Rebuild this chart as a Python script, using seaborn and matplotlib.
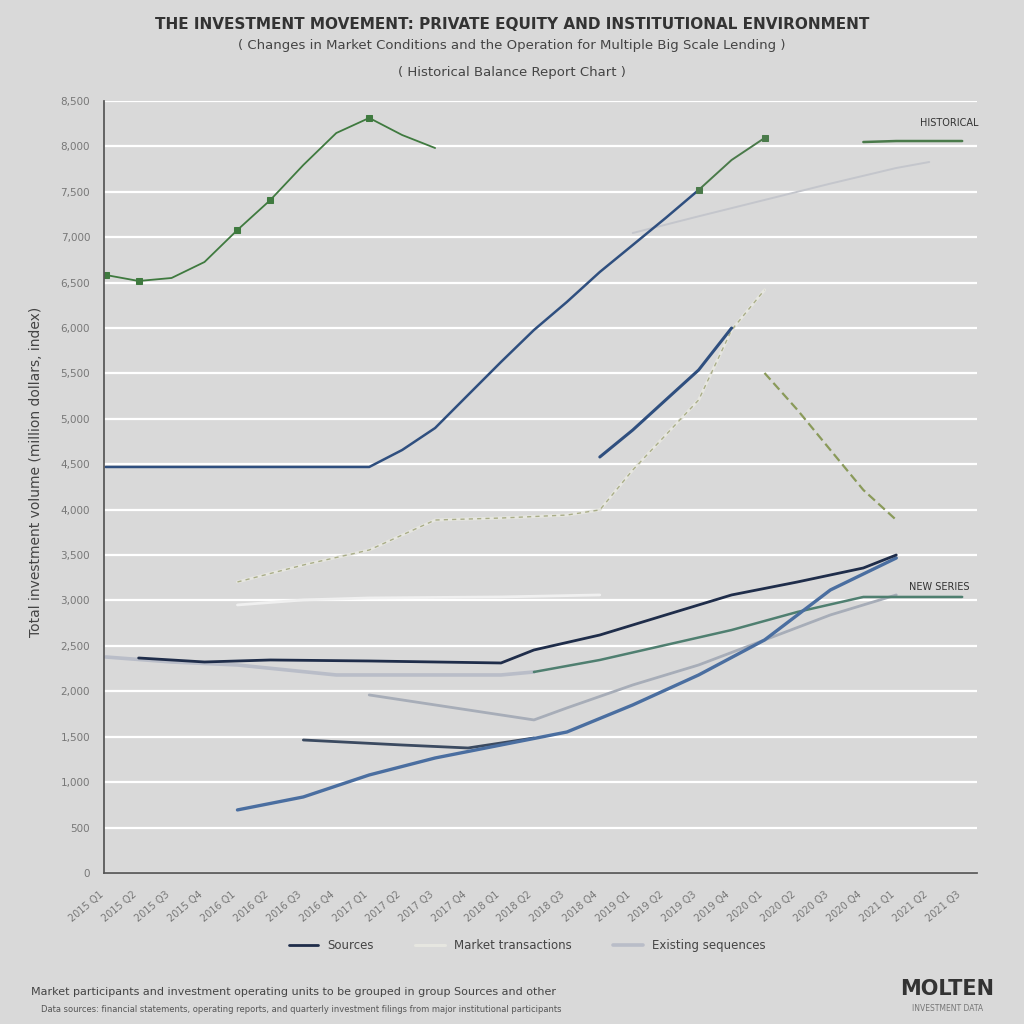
import numpy as np
import pandas as pd
import matplotlib
matplotlib.use("Agg")
import matplotlib.pyplot as plt
import seaborn as sns

# ---------------- data ----------------
periods = [f"{2015 + q // 4} Q{q % 4 + 1}" for q in range(27)]

growth_x = [0, 1, 2, 3, 4, 5, 6, 7, 8, 9, 10]
growth_y = [6584, 6518, 6551, 6727, 7080, 7410, 7795, 8147, 8313, 8125, 7982]

sources_x = [0, 2, 4, 6, 8, 9, 10, 11, 12, 13, 14, 15, 16, 17, 18]
sources_y = [4470, 4470, 4470, 4470, 4470, 4657, 4899, 5263, 5626, 5978, 6287, 6617, 6914, 7212, 7520]

peak_x = [18, 19, 20]
peak_y = [7520, 7850, 8092]

hist_x = [23, 24, 25, 26]
hist_y = [8048, 8059, 8059, 8059]

trend_x = [16, 18, 20, 22, 24, 25]
trend_y = [7046, 7230, 7410, 7590, 7762, 7828]

surge_x = [15, 16, 17, 18, 19]
surge_y = [4580, 4877, 5208, 5538, 6000]

market_x = [4, 6, 8, 10, 12, 14, 15, 16, 17, 18, 19, 20]
market_y = [3204, 3391, 3556, 3886, 3908, 3941, 3997, 4437, 4822, 5208, 5978, 6419]

decline_x = [20, 21, 22, 23, 24]
decline_y = [5505, 5098, 4657, 4217, 3886]

flat_x = [4, 6, 8, 12, 15]
flat_y = [2951, 3006, 3028, 3039, 3061]

navy_x = [1, 3, 5, 8, 12, 13, 15, 17, 19, 21, 23, 24]
navy_y = [2367, 2323, 2345, 2334, 2312, 2455, 2620, 2841, 3061, 3204, 3358, 3501]

steel_x = [4, 6, 8, 10, 12, 14, 16, 18, 20, 22, 24]
steel_y = [694, 837, 1079, 1266, 1409, 1552, 1850, 2180, 2565, 3116, 3468]

exist_x = [0, 2, 4, 7, 12, 13]
exist_y = [2378, 2323, 2290, 2180, 2180, 2213]

exist2_x = [8, 10, 12, 13, 14, 16, 18, 20, 22, 24]
exist2_y = [1960, 1850, 1740, 1685, 1817, 2070, 2290, 2565, 2841, 3061]

teal_x = [13, 15, 17, 19, 21, 23, 25, 26]
teal_y = [2213, 2345, 2510, 2675, 2874, 3039, 3039, 3039]

dark_x = [6, 9, 11, 13]
dark_y = [1464, 1409, 1376, 1486]

y_ticks = list(range(0, 8501, 500))

# ---------------- style ----------------
bg = "#d9d9d9"
sns.set_theme(style="whitegrid", rc={
    "axes.facecolor": bg, "figure.facecolor": bg,
    "grid.color": "white", "grid.linewidth": 1.6,
    "axes.edgecolor": "#444444",
})
plt.rcParams["font.family"] = ["DejaVu Sans"]

fig = plt.figure(figsize=(10.24, 10.24), dpi=100)
ax = fig.add_axes([0.1016, 0.1475, 0.8525, 0.7539])

def draw(x, y, color, lw=1.8, ls="-", marker=None, ms=5, label=None, alpha=1.0, markevery=None):
    df = pd.DataFrame({"x": x, "y": y})
    sns.lineplot(data=df, x="x", y="y", ax=ax, color=color, linewidth=lw,
                 linestyle=ls, marker=marker, markersize=ms, label=label,
                 alpha=alpha, legend=False, markeredgecolor=color, markevery=markevery)

draw(flat_x, flat_y, "#f0f0f0", lw=2.0)
draw(market_x, market_y, "#e6e6e0", lw=2.2, label="Market transactions")
draw(market_x, market_y, "#a9ad88", lw=1.0, ls=(0, (3, 3)))
draw(trend_x, trend_y, "#c4c6cc", lw=1.4)
draw(exist_x, exist_y, "#b9bdc8", lw=2.6, label="Existing sequences")
draw(exist2_x, exist2_y, "#a7adb8", lw=2.0)
draw(teal_x, teal_y, "#4f7f70", lw=1.8)
draw(dark_x, dark_y, "#3b4a60", lw=2.0)
draw(steel_x, steel_y, "#4a6ea0", lw=2.4)
draw(navy_x, navy_y, "#1f2d4a", lw=2.0, label="Sources")
draw(decline_x, decline_y, "#8a9a5a", lw=1.6, ls=(0, (4, 2)))
draw(surge_x, surge_y, "#2f4f7f", lw=2.2)
draw(sources_x, sources_y, "#2f4f7f", lw=1.8)
draw(peak_x, peak_y, "#4a7a4a", lw=1.4, marker="s", ms=4, markevery=[0, 2])
draw(hist_x, hist_y, "#4a7a4a", lw=1.8)
draw(growth_x, growth_y, "#3f7a3f", lw=1.3, marker="s", ms=4, markevery=[0, 1, 4, 5, 8])

ax.set_xlim(-0.05, 26.45)
ax.set_ylim(0, 8500)
ax.set_yticks(y_ticks)
ax.set_yticklabels([f"{v:,}" for v in y_ticks], fontsize=7.5, color="#777777")
ax.set_xticks(range(len(periods)))
ax.set_xticklabels(periods, rotation=40, ha="right", fontsize=7, color="#777777")
ax.tick_params(axis="x", length=4, color="#888888", pad=8)
ax.tick_params(axis="y", length=0, pad=10)
ax.grid(axis="x", visible=False)
ax.grid(axis="y", visible=True)
for s in ["top", "right"]:
    ax.spines[s].set_visible(False)
ax.spines["left"].set_color("#555555")
ax.spines["bottom"].set_color("#555555")
ax.set_xlabel("")
ax.set_ylabel("Total investment volume (million dollars, index)",
              fontsize=10, color="#444444")
ax.yaxis.set_label_coords(-0.07, 0.52)

ax.text(25.6, 8220, "HISTORICAL", fontsize=7, color="#333333", ha="center")
ax.text(25.3, 3200, "NEW SERIES", fontsize=7, color="#333333", ha="center", va="top")

handles, labels = ax.get_legend_handles_labels()
order = ["Sources", "Market transactions", "Existing sequences"]
hmap = dict(zip(labels, handles))
fig.legend([hmap[k] for k in order], order, loc="center", bbox_to_anchor=(0.515, 0.077),
           ncol=3, frameon=False, fontsize=8.5, handlelength=2.5, columnspacing=3.5,
           labelcolor="#444444")

fig.text(0.5, 0.972, "THE INVESTMENT MOVEMENT: PRIVATE EQUITY AND INSTITUTIONAL ENVIRONMENT",
         ha="center", fontsize=11, fontweight="bold", color="#333333")
fig.text(0.5, 0.952, "( Changes in Market Conditions and the Operation for Multiple Big Scale Lending )",
         ha="center", fontsize=9.5, color="#444444")
fig.text(0.5, 0.926, "( Historical Balance Report Chart )",
         ha="center", fontsize=9.5, color="#444444")

fig.text(0.03, 0.028, "Market participants and investment operating units to be grouped in group Sources and other",
         fontsize=8, color="#444444")
fig.text(0.04, 0.012, "Data sources: financial statements, operating reports, and quarterly investment filings from major institutional participants",
         fontsize=6, color="#555555")
fig.text(0.925, 0.028, "MOLTEN", fontsize=15, fontweight="bold", color="#333333", ha="center")
fig.text(0.925, 0.013, "INVESTMENT DATA", fontsize=5.5, color="#777777", ha="center")

fig.savefig("out.png", dpi=100, facecolor=bg)
